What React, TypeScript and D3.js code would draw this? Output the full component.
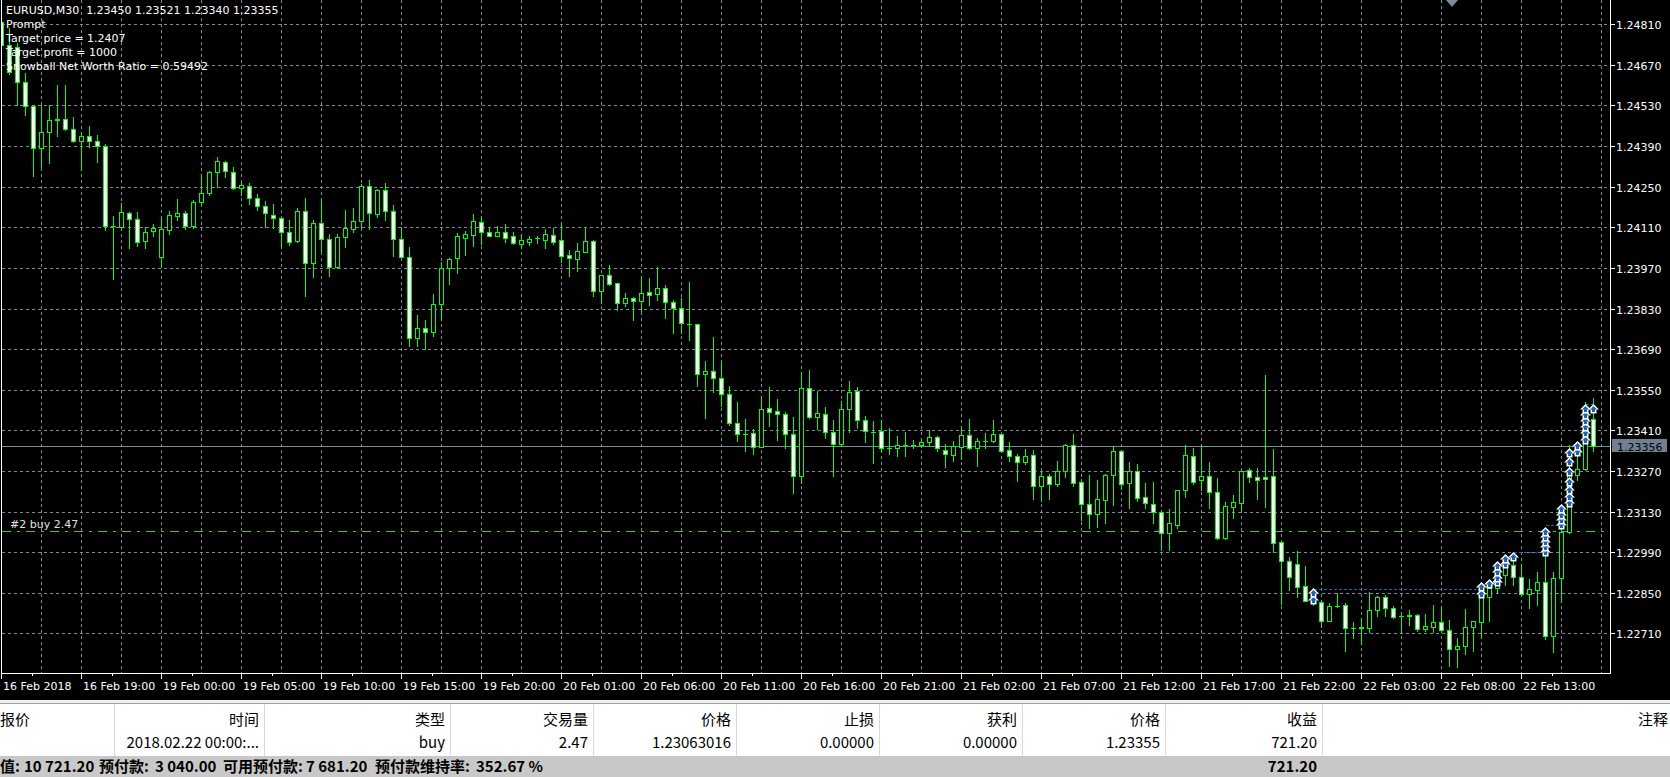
import React from 'react';
import * as d3 from 'd3';

// ---------------- DATA ----------------
const headerLine = 'EURUSD,M30  1.23450 1.23521 1.23340 1.23355';
const infoLines = ['Prompt', 'Target price = 1.2407', 'Target profit = 1000', 'Snowball Net Worth Ratio = 0.59492'];

const timeLabels = [
  '16 Feb 2018', '16 Feb 19:00', '19 Feb 00:00', '19 Feb 05:00', '19 Feb 10:00', '19 Feb 15:00', '19 Feb 20:00',
  '20 Feb 01:00', '20 Feb 06:00', '20 Feb 11:00', '20 Feb 16:00', '20 Feb 21:00', '21 Feb 02:00', '21 Feb 07:00',
  '21 Feb 12:00', '21 Feb 17:00', '21 Feb 22:00', '22 Feb 03:00', '22 Feb 08:00', '22 Feb 13:00',
];
const barsPerLabel = 10;

const priceTicks = [1.2481, 1.2467, 1.2453, 1.2439, 1.2425, 1.2411, 1.2397, 1.2383, 1.2369, 1.2355, 1.2341, 1.2327, 1.2313, 1.2299, 1.2285, 1.2271];

const opens = [
  1.24818, 1.24739, 1.24732, 1.24611, 1.24528, 1.24384, 1.24439, 1.24480, 1.24483, 1.24449,
  1.24408, 1.24425, 1.24408, 1.24391, 1.24115, 1.24111, 1.24159, 1.24139, 1.24063, 1.24097,
  1.24008, 1.24101, 1.24149, 1.24159, 1.24115, 1.24197, 1.24229, 1.24301, 1.24335, 1.24301,
  1.24246, 1.24253, 1.24211, 1.24182, 1.24153, 1.24142, 1.24094, 1.24063, 1.24166, 1.23987,
  1.24125, 1.24070, 1.23973, 1.24077, 1.24104, 1.24132, 1.24253, 1.24156, 1.24239, 1.24166,
  1.24070, 1.24008, 1.23729, 1.23763, 1.23749, 1.23846, 1.23970, 1.24004, 1.24073, 1.24084,
  1.24128, 1.24094, 1.24080, 1.24094, 1.24080, 1.24053, 1.24059, 1.24073, 1.24066, 1.24084,
  1.24066, 1.24015, 1.24001, 1.24025, 1.24063, 1.23891, 1.23946, 1.23918, 1.23849, 1.23866,
  1.23856, 1.23887, 1.23880, 1.23901, 1.23853, 1.23832, 1.23777, 1.23777, 1.23604, 1.23615,
  1.23591, 1.23535, 1.23435, 1.23397, 1.23401, 1.23353, 1.23487, 1.23476, 1.23466, 1.23397,
  1.23253, 1.23556, 1.23456, 1.23466, 1.23404, 1.23363, 1.23484, 1.23546, 1.23446, 1.23404,
  1.23408, 1.23349, 1.23349, 1.23360, 1.23360, 1.23360, 1.23370, 1.23387, 1.23342, 1.23325,
  1.23353, 1.23394, 1.23349, 1.23373, 1.23373, 1.23397, 1.23342, 1.23322, 1.23301, 1.23325,
  1.23218, 1.23253, 1.23225, 1.23270, 1.23360, 1.23232, 1.23156, 1.23122, 1.23170, 1.23256,
  1.23339, 1.23228, 1.23270, 1.23180, 1.23156, 1.23129, 1.23056, 1.23084, 1.23204, 1.23322,
  1.23239, 1.23253, 1.23197, 1.23039, 1.23146, 1.23160, 1.23273, 1.23249, 1.23249, 1.23253,
  1.23025, 1.22960, 1.22949, 1.22873, 1.22849, 1.22818, 1.22753, 1.22804, 1.22808, 1.22729,
  1.22729, 1.22729, 1.22791, 1.22835, 1.22797, 1.22770, 1.22770, 1.22773, 1.22725, 1.22732,
  1.22749, 1.22722, 1.22656, 1.22666, 1.22732, 1.22749, 1.22835, 1.22866, 1.22911, 1.22946,
  1.22904, 1.22846, 1.22859, 1.22887, 1.22701, 1.22901, 1.23060, 1.23256, 1.23277, 1.23450,
];
const highs = [
  1.24832, 1.24797, 1.24746, 1.24642, 1.24530, 1.24532, 1.24532, 1.24601, 1.24601, 1.24491,
  1.24439, 1.24460, 1.24428, 1.24397, 1.24149, 1.24194, 1.24163, 1.24163, 1.24111, 1.24122,
  1.24146, 1.24166, 1.24208, 1.24166, 1.24204, 1.24294, 1.24304, 1.24353, 1.24339, 1.24318,
  1.24263, 1.24263, 1.24225, 1.24201, 1.24190, 1.24146, 1.24135, 1.24177, 1.24211, 1.24135,
  1.24208, 1.24087, 1.24087, 1.24170, 1.24177, 1.24260, 1.24273, 1.24242, 1.24263, 1.24187,
  1.24111, 1.24042, 1.23808, 1.23791, 1.23880, 1.23991, 1.24004, 1.24091, 1.24097, 1.24156,
  1.24149, 1.24111, 1.24115, 1.24122, 1.24094, 1.24087, 1.24080, 1.24080, 1.24104, 1.24108,
  1.24128, 1.24032, 1.24056, 1.24108, 1.24066, 1.23946, 1.23980, 1.23918, 1.23884, 1.23870,
  1.23939, 1.23935, 1.23973, 1.23911, 1.23860, 1.23866, 1.23922, 1.23777, 1.23649, 1.23732,
  1.23649, 1.23563, 1.23508, 1.23449, 1.23415, 1.23528, 1.23559, 1.23518, 1.23473, 1.23456,
  1.23608, 1.23618, 1.23546, 1.23491, 1.23446, 1.23511, 1.23580, 1.23559, 1.23460, 1.23442,
  1.23446, 1.23418, 1.23391, 1.23404, 1.23377, 1.23380, 1.23411, 1.23391, 1.23363, 1.23373,
  1.23425, 1.23449, 1.23384, 1.23401, 1.23446, 1.23397, 1.23370, 1.23328, 1.23346, 1.23342,
  1.23266, 1.23260, 1.23304, 1.23363, 1.23397, 1.23242, 1.23256, 1.23239, 1.23260, 1.23356,
  1.23342, 1.23301, 1.23294, 1.23228, 1.23232, 1.23135, 1.23139, 1.23204, 1.23360, 1.23349,
  1.23356, 1.23301, 1.23246, 1.23163, 1.23187, 1.23273, 1.23280, 1.23280, 1.23601, 1.23346,
  1.23025, 1.22973, 1.22994, 1.22942, 1.22866, 1.22825, 1.22815, 1.22849, 1.22815, 1.22749,
  1.22763, 1.22853, 1.22839, 1.22842, 1.22804, 1.22784, 1.22791, 1.22777, 1.22777, 1.22808,
  1.22804, 1.22756, 1.22694, 1.22794, 1.22753, 1.22884, 1.22894, 1.22956, 1.22980, 1.22987,
  1.22949, 1.22897, 1.22922, 1.23073, 1.22922, 1.23153, 1.23360, 1.23356, 1.23508, 1.23521,
];
const lows = [
  1.24646, 1.24639, 1.24532, 1.24497, 1.24287, 1.24318, 1.24332, 1.24425, 1.24446, 1.24404,
  1.24308, 1.24387, 1.24335, 1.24101, 1.23932, 1.24101, 1.24039, 1.24046, 1.24039, 1.24080,
  1.23973, 1.24087, 1.24135, 1.24104, 1.24108, 1.24194, 1.24222, 1.24249, 1.24284, 1.24242,
  1.24222, 1.24190, 1.24170, 1.24111, 1.24108, 1.24039, 1.24049, 1.24059, 1.23873, 1.23939,
  1.24025, 1.23942, 1.23970, 1.24042, 1.24094, 1.24104, 1.24104, 1.24146, 1.24135, 1.24011,
  1.24004, 1.23701, 1.23701, 1.23691, 1.23735, 1.23791, 1.23915, 1.23953, 1.24015, 1.24046,
  1.24053, 1.24080, 1.24080, 1.24059, 1.24053, 1.24039, 1.24049, 1.24056, 1.24039, 1.24053,
  1.23991, 1.23942, 1.23960, 1.24025, 1.23873, 1.23849, 1.23911, 1.23825, 1.23839, 1.23791,
  1.23822, 1.23842, 1.23860, 1.23797, 1.23746, 1.23746, 1.23722, 1.23563, 1.23453, 1.23542,
  1.23494, 1.23429, 1.23373, 1.23339, 1.23328, 1.23353, 1.23425, 1.23377, 1.23349, 1.23194,
  1.23228, 1.23453, 1.23415, 1.23384, 1.23253, 1.23356, 1.23404, 1.23418, 1.23370, 1.23297,
  1.23339, 1.23328, 1.23322, 1.23322, 1.23349, 1.23353, 1.23360, 1.23339, 1.23284, 1.23304,
  1.23311, 1.23346, 1.23287, 1.23349, 1.23370, 1.23335, 1.23304, 1.23235, 1.23294, 1.23173,
  1.23166, 1.23173, 1.23218, 1.23249, 1.23218, 1.23101, 1.23073, 1.23077, 1.23090, 1.23153,
  1.23208, 1.23142, 1.23166, 1.23142, 1.23090, 1.22997, 1.22997, 1.23073, 1.23180, 1.23225,
  1.23204, 1.23142, 1.23035, 1.23035, 1.23108, 1.23129, 1.23232, 1.23173, 1.23146, 1.22991,
  1.22811, 1.22860, 1.22835, 1.22822, 1.22808, 1.22732, 1.22753, 1.22800, 1.22649, 1.22694,
  1.22673, 1.22715, 1.22770, 1.22770, 1.22763, 1.22711, 1.22739, 1.22718, 1.22718, 1.22715,
  1.22715, 1.22597, 1.22594, 1.22639, 1.22649, 1.22694, 1.22753, 1.22849, 1.22877, 1.22877,
  1.22842, 1.22797, 1.22808, 1.22691, 1.22646, 1.22818, 1.23056, 1.23239, 1.23273, 1.23340,
];
const closes = [
  1.24739, 1.24646, 1.24611, 1.24528, 1.24384, 1.24439, 1.24480, 1.24483, 1.24449, 1.24408,
  1.24425, 1.24408, 1.24391, 1.24115, 1.24113, 1.24163, 1.24139, 1.24059, 1.24094, 1.24108,
  1.24104, 1.24153, 1.24159, 1.24115, 1.24197, 1.24229, 1.24301, 1.24339, 1.24304, 1.24246,
  1.24256, 1.24211, 1.24184, 1.24159, 1.24142, 1.24094, 1.24059, 1.24166, 1.23987, 1.24125,
  1.24070, 1.23973, 1.24077, 1.24108, 1.24132, 1.24253, 1.24159, 1.24239, 1.24166, 1.24070,
  1.24008, 1.23729, 1.23763, 1.23749, 1.23846, 1.23970, 1.24001, 1.24080, 1.24087, 1.24132,
  1.24094, 1.24080, 1.24094, 1.24073, 1.24056, 1.24066, 1.24070, 1.24073, 1.24087, 1.24059,
  1.24011, 1.24004, 1.24029, 1.24063, 1.23891, 1.23946, 1.23915, 1.23849, 1.23866, 1.23856,
  1.23884, 1.23877, 1.23901, 1.23853, 1.23832, 1.23780, 1.23777, 1.23604, 1.23615, 1.23591,
  1.23535, 1.23435, 1.23397, 1.23397, 1.23353, 1.23484, 1.23473, 1.23466, 1.23397, 1.23253,
  1.23556, 1.23456, 1.23470, 1.23404, 1.23363, 1.23484, 1.23542, 1.23446, 1.23408, 1.23404,
  1.23349, 1.23349, 1.23360, 1.23360, 1.23360, 1.23370, 1.23387, 1.23349, 1.23328, 1.23356,
  1.23394, 1.23349, 1.23373, 1.23373, 1.23397, 1.23339, 1.23322, 1.23301, 1.23322, 1.23218,
  1.23253, 1.23225, 1.23270, 1.23360, 1.23228, 1.23156, 1.23122, 1.23173, 1.23256, 1.23339,
  1.23225, 1.23270, 1.23177, 1.23160, 1.23129, 1.23056, 1.23090, 1.23204, 1.23325, 1.23232,
  1.23253, 1.23197, 1.23039, 1.23149, 1.23163, 1.23270, 1.23249, 1.23239, 1.23242, 1.23022,
  1.22960, 1.22904, 1.22870, 1.22822, 1.22825, 1.22753, 1.22804, 1.22804, 1.22729, 1.22729,
  1.22732, 1.22791, 1.22835, 1.22797, 1.22766, 1.22770, 1.22773, 1.22725, 1.22735, 1.22749,
  1.22722, 1.22656, 1.22666, 1.22732, 1.22753, 1.22835, 1.22866, 1.22911, 1.22946, 1.22904,
  1.22846, 1.22863, 1.22887, 1.22701, 1.22901, 1.23060, 1.23260, 1.23277, 1.23449, 1.23355,
];

const bidPrice = 1.23356;
const orderPrice = 1.23063016;
const orderLabel = '#2 buy 2.47';

// buy entry arrows (bar index, price)
const arrowBars = [164, 164, 185, 185, 186, 187, 187, 187, 187, 188, 188, 189,
  193, 193, 193, 193, 193, 195, 195, 195, 195,
  196, 196, 196, 196, 196, 196, 196, 197, 197,
  198, 198, 198, 198, 198, 198, 199];
const arrowPrices = [1.22863, 1.22839, 1.22884, 1.22859, 1.22894, 1.22956, 1.22935, 1.22915, 1.22901, 1.22980, 1.22963, 1.22987,
  1.23073, 1.23056, 1.23039, 1.23022, 1.23004, 1.23153, 1.23132, 1.23115, 1.23097,
  1.23346, 1.23315, 1.23280, 1.23246, 1.23218, 1.23194, 1.23173, 1.23370, 1.23349,
  1.23497, 1.23477, 1.23456, 1.23435, 1.23415, 1.23391, 1.23497];

// dashed trade lines (from bar, to bar, price)
const tradeFrom = [164, 189, 193, 198];
const tradeTo = [185, 193, 195, 199];
const tradePrice = [1.22863, 1.22990, 1.23084, 1.23501];

// terminal table
const tableHeaders = ['报价', '时间', '类型', '交易量', '价格', '止损', '获利', '价格', '收益', '注释'];
const tableRow = ['', '2018.02.22 00:00:...', 'buy', '2.47', '1.23063016', '0.00000', '0.00000', '1.23355', '721.20', ''];
const summaryParts = ['值:', '10 721.20', '预付款:', '3 040.00', '可用预付款:', '7 681.20', '预付款维持率:', '352.67 %'];
const summaryProfit = '721.20';

// ---------------- LAYOUT ----------------
const W = 1670;
const H = 777;
const CR = 1610; // chart right border
const CB = 673; // chart bottom border
const LIME = '#00ff00';
const GRID = '#7f8a99';
const WHITE = '#ffffff';
const BLUE = '#1f63b4';
const CHART_FONT = '"DejaVu Sans", Verdana, sans-serif';
const TABLE_FONT = '"Noto Sans CJK SC", "Noto Sans", sans-serif';

const colRight = [30, 259, 445, 588, 731, 874, 1017, 1160, 1317, 1668];
const colSeps = [114, 264, 450, 593, 736, 879, 1022, 1165, 1322];
const summaryX = [0, 24, 99, 155, 223, 306, 375, 476];

const y = d3.scaleLinear().domain([1.2271, 1.2481]).range([633.3, 24.3]);
const x = d3.scaleLinear().domain([0, opens.length - 1]).range([1.5, 1.5 + 8 * (opens.length - 1)]);
const py = (p: number) => Math.round(y(p)) + 0.5;
const fmt = d3.format('.5f');

function Arrow({ cx, ty }: { cx: number; ty: number }) {
  const outer = [[0, -1], [5.5, 4.5], [3, 4.5], [3, 8.5], [-3, 8.5], [-3, 4.5], [-5.5, 4.5]];
  const inner = [[0, 1], [3.5, 4.5], [1.5, 4.5], [1.5, 7], [-1.5, 7], [-1.5, 4.5], [-3.5, 4.5]];
  const pts = (a: number[][]) => a.map(([dx, dy]) => `${cx + dx},${ty + dy}`).join(' ');
  return (
    <g>
      <polygon points={pts(outer)} fill={WHITE} />
      <polygon points={pts(inner)} fill={BLUE} />
    </g>
  );
}

export default function App() {
  const bars = opens.map((o, i) => ({ i, o, h: highs[i], l: lows[i], c: closes[i] }));
  const arrows = arrowBars.map((b, k) => ({ b, p: arrowPrices[k] }))
    .sort((a, b2) => (a.b - b2.b) || (a.p - b2.p));
  const vGrid = d3.range(40, CR, 40).map((d) => d + 1.5);
  const bidY = py(bidPrice);
  const orderY = py(orderPrice);

  return (
    <svg width={W} height={H} style={{ position: 'absolute', left: 0, top: 0, display: 'block' }}
      xmlns="http://www.w3.org/2000/svg">
      <defs>
        <clipPath id="plot"><rect x={2} y={0} width={CR - 2} height={CB} /></clipPath>
      </defs>
      <rect x={0} y={0} width={W} height={700} fill="#000" />

      {/* grid */}
      <g stroke={GRID} strokeWidth={1} strokeDasharray="3,3" shapeRendering="crispEdges">
        {priceTicks.map((t) => (
          <line key={'h' + t} x1={2} x2={CR} y1={py(t)} y2={py(t)} />
        ))}
        {vGrid.map((gx) => (
          <line key={'v' + gx} x1={gx} x2={gx} y1={0} y2={CB} />
        ))}
      </g>

      {/* bid line */}
      <line x1={2} x2={CR} y1={bidY} y2={bidY} stroke="#7f8a99" strokeWidth={1} shapeRendering="crispEdges" />

      {/* order line */}
      <line x1={2} x2={CR} y1={orderY} y2={orderY} stroke="#32cd32" strokeWidth={1}
        strokeDasharray="9,6,3,6" shapeRendering="crispEdges" />
      <text x={10} y={orderY - 4} fill="#e0e0e0" fontFamily={CHART_FONT} fontSize={11}>{orderLabel}</text>

      {/* candles */}
      <g clipPath="url(#plot)" shapeRendering="crispEdges">
        {bars.map((b) => {
          const cx = x(b.i);
          const top = py(Math.max(b.o, b.c));
          const bot = py(Math.min(b.o, b.c));
          const bull = b.c > b.o;
          return (
            <g key={b.i}>
              <line x1={cx} x2={cx} y1={Math.round(y(b.h))} y2={Math.round(y(b.l)) + 1} stroke={LIME} strokeWidth={1} />
              {bot - top < 1 ? (
                <line x1={cx - 2.5} x2={cx + 2.5} y1={top} y2={top} stroke={LIME} strokeWidth={1} />
              ) : (
                <rect x={cx - 2} y={top} width={4} height={bot - top} fill={bull ? '#000' : WHITE} stroke={LIME} strokeWidth={1} />
              )}
            </g>
          );
        })}
      </g>

      {/* trade dashed lines */}
      <g stroke={BLUE} strokeWidth={1} strokeDasharray="3,2" shapeRendering="crispEdges">
        {tradeFrom.map((f, k) => (
          <line key={'t' + k} x1={x(f)} x2={x(tradeTo[k])} y1={py(tradePrice[k])} y2={py(tradePrice[k])} />
        ))}
      </g>

      {/* arrows: draw lower ones first so the top one stays whole */}
      <g>
        {arrows.map((a, k) => (
          <Arrow key={'a' + k} cx={x(a.b)} ty={Math.round(y(a.p))} />
        ))}
      </g>

      {/* chart frame */}
      <g stroke={WHITE} strokeWidth={1} shapeRendering="crispEdges">
        <line x1={1.5} x2={1.5} y1={0} y2={CB} />
        <line x1={CR + 0.5} x2={CR + 0.5} y1={0} y2={CB + 1} />
        <line x1={1} x2={CR + 1} y1={CB + 0.5} y2={CB + 0.5} />
      </g>

      {/* shift marker */}
      <polygon points="1446,0 1458,0 1452,7" fill="#7f8a99" />

      {/* price axis */}
      <g fontFamily={CHART_FONT} fontSize={11} fill={WHITE}>
        {priceTicks.map((t) => (
          <g key={'p' + t}>
            <line x1={CR} x2={CR + 5} y1={py(t)} y2={py(t)} stroke={WHITE} shapeRendering="crispEdges" />
            <text x={CR + 6} y={py(t) + 4}>{fmt(t)}</text>
          </g>
        ))}
      </g>
      <rect x={1612} y={bidY - 7.5} width={55} height={13} fill="#708090" />
      <text x={1617} y={bidY + 4} fill="#000" fontFamily={CHART_FONT} fontSize={11}>{fmt(bidPrice)}</text>

      {/* time axis */}
      <g fontFamily={CHART_FONT} fontSize={11} fill={WHITE}>
        {timeLabels.map((lab, k) => {
          const tx = x(k * barsPerLabel);
          return (
            <g key={'x' + k}>
              <line x1={tx} x2={tx} y1={CB} y2={CB + 6} stroke={WHITE} shapeRendering="crispEdges" />
              <line x1={tx + 31} x2={tx + 31} y1={CB} y2={CB + 3} stroke={WHITE} shapeRendering="crispEdges" />
              <text x={tx + 1.5} y={690}>{lab}</text>
            </g>
          );
        })}
      </g>

      {/* info text */}
      <g fontFamily={CHART_FONT} fontSize={11} fill={WHITE}>
        <text x={6} y={13.5} style={{ whiteSpace: 'pre' }}>{headerLine}</text>
        {infoLines.map((s, k) => (
          <text key={'i' + k} x={6} y={27.5 + 14 * k}>{s}</text>
        ))}
      </g>

      {/* terminal table */}
      <rect x={0} y={700} width={W} height={4} fill="#f0f0f0" />
      <line x1={0} x2={W} y1={703.5} y2={703.5} stroke="#a0a0a0" />
      <rect x={0} y={704} width={W} height={52} fill={WHITE} />
      <g stroke="#d9d9d9" shapeRendering="crispEdges">
        {colSeps.map((sx) => (
          <line key={'c' + sx} x1={sx + 0.5} x2={sx + 0.5} y1={704} y2={756} />
        ))}
      </g>
      <g fontFamily={TABLE_FONT} fontSize={15} fill="#000" textAnchor="end">
        {tableHeaders.map((h, k) => (
          <text key={'th' + k} x={colRight[k]} y={725}>{h}</text>
        ))}
        {tableRow.map((v, k) => (v ? <text key={'td' + k} x={colRight[k]} y={748}>{v}</text> : null))}
      </g>
      <rect x={0} y={756} width={W} height={21} fill="#c8c8c8" />
      <g fontFamily={TABLE_FONT} fontSize={15} fontWeight="bold" fill="#000">
        {summaryParts.map((s, k) => (
          <text key={'s' + k} x={summaryX[k]} y={772}>{s}</text>
        ))}
        <text x={colRight[8]} y={772} textAnchor="end">{summaryProfit}</text>
      </g>
    </svg>
  );
}
